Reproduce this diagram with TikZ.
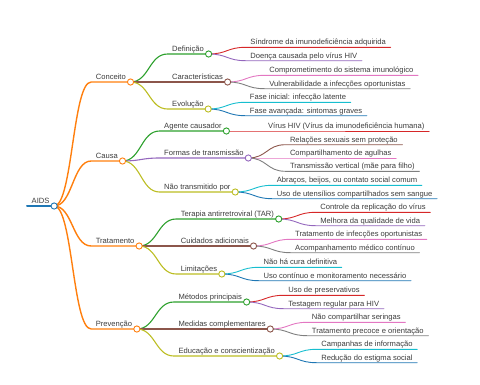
\documentclass[tikz,border=0pt]{standalone}
\usepackage{fontspec}
\setmainfont{Liberation Sans}
\usetikzlibrary{calc}
\definecolor{cblue}{HTML}{1F77B4}
\definecolor{corange}{HTML}{FF7F0E}
\definecolor{cgreen}{HTML}{2CA02C}
\definecolor{cred}{HTML}{D62728}
\definecolor{cpurple}{HTML}{9467BD}
\definecolor{cbrown}{HTML}{8C564B}
\definecolor{cpink}{HTML}{E377C2}
\definecolor{cgray}{HTML}{7F7F7F}
\definecolor{colive}{HTML}{BCBD22}
\definecolor{ccyan}{HTML}{17BECF}
\definecolor{txt}{HTML}{3C3C3C}
\pgfdeclarelayer{bg}
\pgfsetlayers{bg,main}
% node with circle: name, parent circle, yshift, colour, text
\newcommand{\mmnode}[5]{%
  \node[lbl] (#1) at ([xshift=37pt,yshift=#3pt]#2.center) {#5};
  \node[dot=#4] (c#1) at (#1.south east) {};}
% leaf node: name, parent circle, yshift, text
\newcommand{\mmleaf}[4]{%
  \node[lbl] (#1) at ([xshift=37pt,yshift=#3pt]#2.center) {#4};}
% connector: style, parent circle, child
\newcommand{\mmedge}[3]{%
  \draw[#1] (#2.center) let \p1=(#2.center), \p2=(#3.south west) in
    .. controls ({(\x1+\x2)/2},\y1) and ({(\x1+\x2)/2},\y2) .. (#3.south west) -- (#3.south east);}
\begin{document}
\begin{tikzpicture}[x=1pt,y=-1pt,
  lbl/.style={anchor=south west, inner xsep=4.5pt, inner ysep=2.5pt,
    text height=5.5pt, text depth=0pt, font=\fontsize{7.6}{9}\selectfont, text=txt},
  dot/.style={circle, draw=#1, fill=white, line width=0.9pt, minimum size=6.2pt, inner sep=0pt},
  lv0/.style={draw=#1, line width=2pt, line cap=round},
  lv1/.style={draw=#1, line width=1.4pt, line cap=round, line join=round},
  lv2/.style={draw=#1, line width=1.1pt, line cap=round, line join=round},
  lv3/.style={draw=#1, line width=0.9pt, line cap=round, line join=round}]
\useasboundingbox (0,0) rectangle (480,384);
% root
\node[lbl] (R) at (27,206) {AIDS};
\node[dot=cblue] (cR) at (R.south east) {};
% level 1
\mmnode{A1}{cR}{124}{corange}{Conceito}
\mmnode{A2}{cR}{45}{corange}{Causa}
\mmnode{A3}{cR}{-40}{corange}{Tratamento}
\mmnode{A4}{cR}{-123}{corange}{Prevenção}
% level 2
\mmnode{B11}{cA1}{28}{cgreen}{Definição}
\mmnode{B12}{cA1}{0}{cbrown}{Características}
\mmnode{B13}{cA1}{-27}{colive}{Evolução}
\mmnode{B21}{cA2}{30}{cgreen}{Agente causador}
\mmnode{B22}{cA2}{3}{cpurple}{Formas de transmissão}
\mmnode{B23}{cA2}{-31}{colive}{Não transmitido por}
\mmnode{B31}{cA3}{27}{cgreen}{Terapia antirretroviral (TAR)}
\mmnode{B32}{cA3}{0}{cbrown}{Cuidados adicionais}
\mmnode{B33}{cA3}{-28}{colive}{Limitações}
\mmnode{B41}{cA4}{27}{cgreen}{Métodos principais}
\mmnode{B42}{cA4}{0}{cbrown}{Medidas complementares}
\mmnode{B43}{cA4}{-27}{colive}{Educação e conscientização}
% level 3
\mmleaf{C111}{cB11}{6.7}{Síndrome da imunodeficiência adquirida}
\mmleaf{C112}{cB11}{-6.7}{Doença causada pelo vírus HIV}
\mmleaf{C121}{cB12}{6.7}{Comprometimento do sistema imunológico}
\mmleaf{C122}{cB12}{-6.7}{Vulnerabilidade a infecções oportunistas}
\mmleaf{C131}{cB13}{6.7}{Fase inicial: infecção latente}
\mmleaf{C132}{cB13}{-6.7}{Fase avançada: sintomas graves}
\mmleaf{C211}{cB21}{0}{Vírus HIV (Vírus da imunodeficiência humana)}
\mmleaf{C221}{cB22}{13.3}{Relações sexuais sem proteção}
\mmleaf{C222}{cB22}{0}{Compartilhamento de agulhas}
\mmleaf{C223}{cB22}{-13.3}{Transmissão vertical (mãe para filho)}
\mmleaf{C231}{cB23}{6.7}{Abraços, beijos, ou contato social comum}
\mmleaf{C232}{cB23}{-6.7}{Uso de utensílios compartilhados sem sangue}
\mmleaf{C311}{cB31}{6.7}{Controle da replicação do vírus}
\mmleaf{C312}{cB31}{-6.7}{Melhora da qualidade de vida}
\mmleaf{C321}{cB32}{6.7}{Tratamento de infecções oportunistas}
\mmleaf{C322}{cB32}{-6.7}{Acompanhamento médico contínuo}
\mmleaf{C331}{cB33}{6.7}{Não há cura definitiva}
\mmleaf{C332}{cB33}{-6.7}{Uso contínuo e monitoramento necessário}
\mmleaf{C411}{cB41}{6.7}{Uso de preservativos}
\mmleaf{C412}{cB41}{-6.7}{Testagem regular para HIV}
\mmleaf{C421}{cB42}{6.7}{Não compartilhar seringas}
\mmleaf{C422}{cB42}{-6.7}{Tratamento precoce e orientação}
\mmleaf{C431}{cB43}{6.7}{Campanhas de informação}
\mmleaf{C432}{cB43}{-6.7}{Redução do estigma social}
\begin{pgfonlayer}{bg}
\draw[lv0=cblue] (R.south west) -- (R.south east);
\mmedge{lv1=corange}{cR}{A1}
\mmedge{lv1=corange}{cR}{A2}
\mmedge{lv1=corange}{cR}{A3}
\mmedge{lv1=corange}{cR}{A4}
\mmedge{lv2=cgreen}{cA1}{B11}
\mmedge{lv2=cbrown}{cA1}{B12}
\mmedge{lv2=colive}{cA1}{B13}
\mmedge{lv2=cgreen}{cA2}{B21}
\mmedge{lv2=cpurple}{cA2}{B22}
\mmedge{lv2=colive}{cA2}{B23}
\mmedge{lv2=cgreen}{cA3}{B31}
\mmedge{lv2=cbrown}{cA3}{B32}
\mmedge{lv2=colive}{cA3}{B33}
\mmedge{lv2=cgreen}{cA4}{B41}
\mmedge{lv2=cbrown}{cA4}{B42}
\mmedge{lv2=colive}{cA4}{B43}
\mmedge{lv3=cred}{cB11}{C111}
\mmedge{lv3=cpurple}{cB11}{C112}
\mmedge{lv3=cpink}{cB12}{C121}
\mmedge{lv3=cgray}{cB12}{C122}
\mmedge{lv3=ccyan}{cB13}{C131}
\mmedge{lv3=cblue}{cB13}{C132}
\mmedge{lv3=cred}{cB21}{C211}
\mmedge{lv3=cbrown}{cB22}{C221}
\mmedge{lv3=cpink}{cB22}{C222}
\mmedge{lv3=cgray}{cB22}{C223}
\mmedge{lv3=ccyan}{cB23}{C231}
\mmedge{lv3=cblue}{cB23}{C232}
\mmedge{lv3=cred}{cB31}{C311}
\mmedge{lv3=cpurple}{cB31}{C312}
\mmedge{lv3=cpink}{cB32}{C321}
\mmedge{lv3=cgray}{cB32}{C322}
\mmedge{lv3=ccyan}{cB33}{C331}
\mmedge{lv3=cblue}{cB33}{C332}
\mmedge{lv3=cred}{cB41}{C411}
\mmedge{lv3=cpurple}{cB41}{C412}
\mmedge{lv3=cpink}{cB42}{C421}
\mmedge{lv3=cgray}{cB42}{C422}
\mmedge{lv3=ccyan}{cB43}{C431}
\mmedge{lv3=cblue}{cB43}{C432}
\end{pgfonlayer}
\end{tikzpicture}
\end{document}
